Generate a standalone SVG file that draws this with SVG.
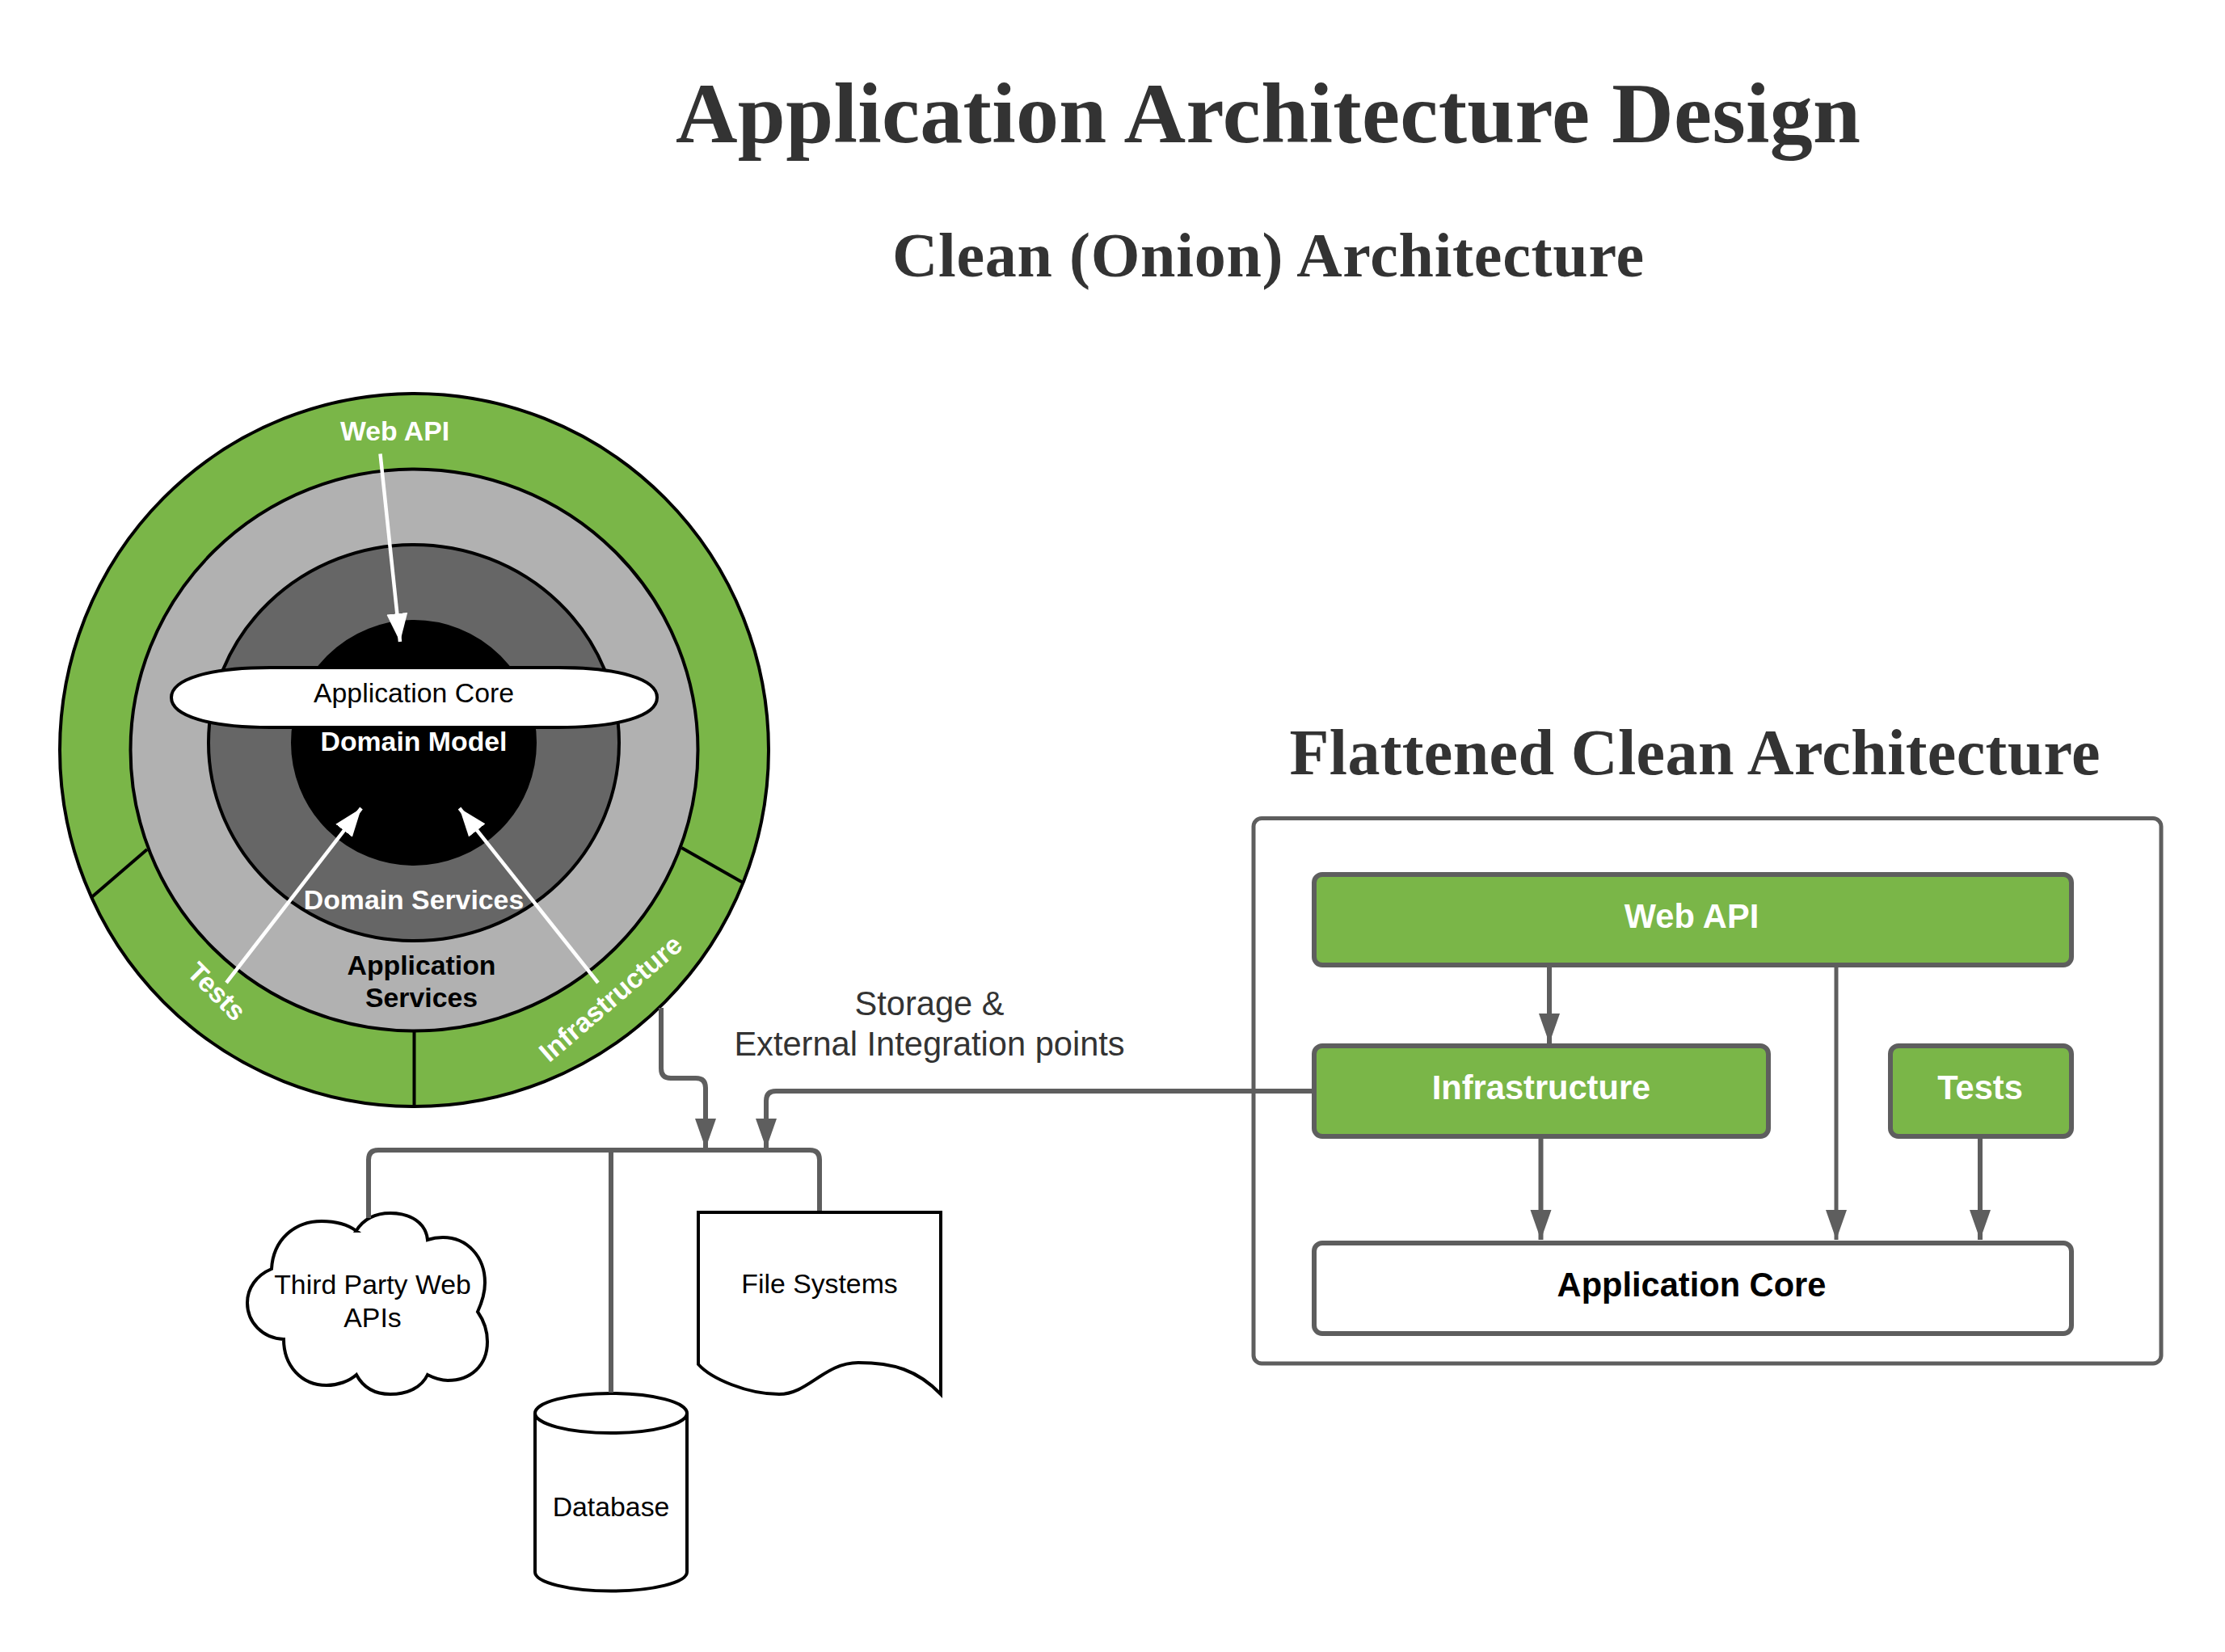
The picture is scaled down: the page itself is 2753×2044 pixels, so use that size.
<svg xmlns="http://www.w3.org/2000/svg" width="2753" height="2044" viewBox="0 0 2753 2044">
<style>
text{font-family:"Liberation Sans",Arial,sans-serif;font-size:33.8px;text-anchor:middle}
.h{font-family:"Liberation Serif","Times New Roman",serif;font-weight:700;fill:#333}
.b{font-weight:700}
.w{font-weight:700;fill:#fff}
.k{fill:#000}
.big{font-size:41.6px}
.ring{stroke:#000;stroke-width:4}
.shape{fill:#fff;stroke:#000;stroke-width:4}
.box{stroke:#5e5e5e;stroke-width:6}
.g{fill:#7ab648}
.conn{fill:none;stroke:#5e5e5e;stroke-width:6;stroke-linejoin:round}
.wa{fill:none;stroke:#fff;stroke-width:4.5}
</style>
<defs>
<marker id="ga" markerUnits="userSpaceOnUse" markerWidth="38" markerHeight="28" refX="37" refY="14" orient="auto"><path d="M0,1 L37,14 L0,27 Z" fill="#5e5e5e"/></marker>
<marker id="wh" markerUnits="userSpaceOnUse" markerWidth="36" markerHeight="28" refX="35" refY="14" orient="auto"><path d="M0,1 L35,14 L0,27 Z" fill="#fff"/></marker>
</defs>
<g id="titles">
<text class="h" x="1569" y="176" textLength="1466" style="font-size:106px">Application Architecture Design</text>
<text class="h" x="1569" y="342" textLength="930" style="font-size:78px">Clean (Onion) Architecture</text>
<text class="h" x="2097" y="958" textLength="1003" style="font-size:80px">Flattened Clean Architecture</text>
</g>
<g id="onion-outer"><ellipse class="ring g" cx="512.5" cy="928" rx="438.5" ry="441"/>
<line class="ring" x1="182" y1="1051" x2="113.5" y2="1110"/><line class="ring" x1="843.4" y1="1049" x2="920" y2="1092.6"/><line class="ring" x1="512.5" y1="1276" x2="512.5" y2="1369"/>
<text class="w" x="488.5" y="544.5">Web API</text>
<text class="w" transform="translate(260,1235) rotate(45)" x="0" y="0">Tests</text>
<text class="w" transform="translate(763,1244) rotate(-40.6)" x="0" y="0">Infrastructure</text>
</g>
<g id="application-services"><ellipse class="ring" fill="#b1b1b1" cx="512.5" cy="928" rx="351" ry="347.5"/>
<text class="b k" x="521.5" y="1206">Application</text><text class="b k" x="521.5" y="1246">Services</text></g>
<g id="domain-services"><ellipse class="ring" fill="#666" cx="512" cy="919" rx="254" ry="245"/>
<text class="w" x="512" y="1124.5">Domain Services</text></g>
<g id="domain-model"><circle class="ring" fill="#000" cx="512" cy="919" r="150"/>
<text class="w" x="512" y="928.5">Domain Model</text></g>
<g id="application-core"><path class="shape" d="M334,826 H691 C765,826 813,840 813,863 C813,886 765,900 691,900 H334 C260,900 212,886 212,863 C212,840 260,826 334,826 Z"/>
<text class="k" x="512" y="868.5">Application Core</text></g>
<g id="third-party"><path class="shape" d="M440.6,1523 C450,1508 465,1501 483,1501 C508,1501 527,1513 529,1534 C535,1532 542,1531 548,1531 C578,1531 600,1555 600,1587 C600,1600 596,1612 591,1623 C598,1633 603,1645 603,1660 C603,1690 582,1708 554,1708 C545,1708 537,1705 529,1701 C522,1716 505,1725 483,1725 C463,1725 449,1716 441,1701 C432,1709 418,1714 404,1714 C373,1714 351,1690 351,1657 C325,1656 306,1636 306,1612 C306,1594 317,1578 336,1570 C338,1534 364,1511 398,1511 C415,1511 430,1515 441,1523 Z"/>
<text class="k" x="461" y="1601">Third Party Web</text><text class="k" x="461" y="1642">APIs</text></g>
<g id="database"><path class="shape" d="M662,1748 V1945 C662,1958 704,1968.5 756,1968.5 C808,1968.5 850,1958 850,1945 V1748"/>
<ellipse class="shape" cx="756" cy="1748.5" rx="94" ry="24.5"/>
<text class="k" x="756" y="1876">Database</text></g>
<g id="file-systems"><path class="shape" d="M864,1500 H1164 V1725 C1135,1695 1105,1686 1062,1686 C1020,1686 1000,1725 964,1725 C925,1725 880,1706 864,1688 Z"/>
<text class="k" x="1014" y="1600">File Systems</text></g>
<g id="flattened-frame"><rect x="1551" y="1012.5" width="1123" height="674.5" rx="10" fill="none" class="box" style="stroke-width:5"/></g>
<g id="flat-web-api"><rect class="box g" x="1626" y="1082" width="937" height="112" rx="10"/><text class="w big" x="2093" y="1147.5">Web API</text></g>
<g id="flat-infrastructure"><rect class="box g" x="1626" y="1294" width="562" height="112" rx="10"/><text class="w big" x="1907" y="1360">Infrastructure</text></g>
<g id="flat-tests"><rect class="box g" x="2339" y="1294" width="224" height="112" rx="10"/><text class="w big" x="2450" y="1360">Tests</text></g>
<g id="flat-application-core"><rect class="shape box" style="stroke:#5e5e5e;stroke-width:6" x="1626" y="1538" width="937" height="112" rx="10"/><text class="b k big" x="2093" y="1604">Application Core</text></g>
<g id="connectors">
<path class="conn" d="M1917,1197 V1291" marker-end="url(#ga)"/>
<path class="conn" d="M2272,1197 V1534" marker-end="url(#ga)" style="stroke-width:5"/>
<path class="conn" d="M1906.5,1409 V1534" marker-end="url(#ga)"/>
<path class="conn" d="M2450,1409 V1534" marker-end="url(#ga)"/>
<path class="conn" d="M1626,1350 H960 Q948,1350 948,1362 V1421" marker-end="url(#ga)"/>
<path class="conn" d="M818,1247 V1322 Q818,1334 830,1334 H861 Q873,1334 873,1346 V1421" marker-end="url(#ga)"/>
<path class="conn" d="M456,1507 V1435 Q456,1423 468,1423 H1002 Q1014,1423 1014,1435 V1498"/>
<path class="conn" d="M756,1423 V1723"/>
<path class="wa" d="M470.5,561.6 L495,794" marker-end="url(#wh)"/>
<path class="wa" d="M280,1216 L447,1000" marker-end="url(#wh)"/>
<path class="wa" d="M740,1216 L568.5,1000" marker-end="url(#wh)"/>
</g>
<g id="note"><text class="big" fill="#333" x="1150" y="1256">Storage &amp;</text><text class="big" fill="#333" x="1150" y="1306">External Integration points</text></g>
</svg>
